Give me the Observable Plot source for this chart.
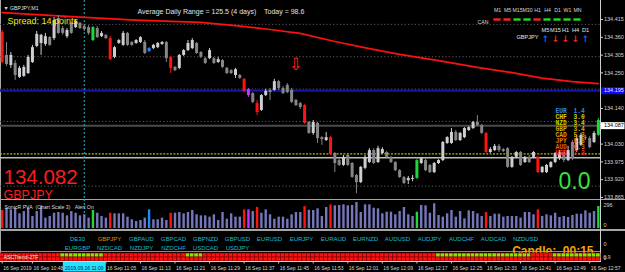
<!DOCTYPE html>
<html><head><meta charset="utf-8">
<script src="https://cdn.jsdelivr.net/npm/d3@7"></script>
<script src="https://cdn.jsdelivr.net/npm/@observablehq/plot@0.6"></script>
<style>
html,body{margin:0;padding:0;background:#000;}
#chart{position:relative;width:625px;height:272px;background:#000;overflow:hidden;}
</style></head><body><div id="chart"></div>
<script>
// ---------- DATA (GBPJPY, M1, 16 Sep 2019 from 10:41) ----------
const opens = [134.375,134.304,134.273,134.279,134.236,134.239,134.248,134.282,134.332,134.341,
134.338,134.359,134.356,134.418,134.387,134.362,134.403,134.390,134.403,134.393,
134.390,134.350,134.387,134.362,134.366,134.356,134.298,134.341,134.335,134.372,
134.344,134.341,134.344,134.344,134.316,134.325,134.328,134.338,134.344,134.298,
134.267,134.264,134.304,134.319,134.325,134.341,134.313,134.294,134.294,134.294,
134.282,134.288,134.264,134.257,134.242,134.242,134.230,134.199,134.186,134.155,
134.134,134.180,134.196,134.196,134.223,134.202,134.211,134.196,134.165,134.155,
134.149,134.097,134.063,134.094,134.050,134.041,134.050,134.001,133.979,133.964,
133.995,133.970,133.933,133.911,133.955,133.973,134.010,133.973,134.001,134.004,
133.989,133.973,133.948,133.927,133.917,133.921,133.924,133.970,133.979,133.964,
133.942,133.970,133.979,134.032,134.032,134.066,134.041,134.050,134.072,134.078,
134.097,134.087,134.063,134.004,134.010,134.023,134.013,134.016,133.958,133.989,
134.004,133.973,133.989,133.989,133.989,133.942,133.942,133.958,133.973,133.985,
134.004,133.979,134.035,134.010,134.026,134.050,134.047,134.035,134.057];
const highs = [134.381,134.344,134.313,134.288,134.270,134.273,134.304,134.335,134.378,134.369,
134.372,134.362,134.421,134.427,134.393,134.387,134.406,134.415,134.406,134.400,
134.396,134.393,134.393,134.378,134.369,134.362,134.332,134.353,134.378,134.375,
134.347,134.353,134.362,134.350,134.328,134.338,134.344,134.347,134.347,134.301,
134.270,134.307,134.322,134.350,134.356,134.344,134.316,134.298,134.325,134.298,
134.298,134.291,134.267,134.260,134.264,134.245,134.233,134.202,134.189,134.165,
134.183,134.199,134.202,134.230,134.227,134.208,134.217,134.202,134.168,134.159,
134.152,134.100,134.103,134.097,134.053,134.066,134.053,134.004,133.985,133.995,
134.001,133.973,133.936,133.961,133.995,134.016,134.016,134.023,134.019,134.007,
133.992,133.976,133.951,133.930,133.930,133.933,133.982,133.989,133.985,133.967,
133.973,133.982,134.038,134.053,134.078,134.072,134.066,134.081,134.084,134.100,
134.118,134.091,134.066,134.019,134.029,134.029,134.016,134.019,133.992,134.007,
134.007,133.992,133.995,134.007,133.992,133.961,133.967,133.976,134.004,134.010,
134.010,134.023,134.041,134.057,134.063,134.057,134.053,134.069,134.109];
const lows = [134.279,134.270,134.264,134.227,134.233,134.236,134.245,134.279,134.328,134.304,
134.332,134.332,134.350,134.369,134.366,134.356,134.369,134.387,134.384,134.378,
134.366,134.347,134.356,134.359,134.353,134.288,134.294,134.338,134.332,134.332,
134.332,134.338,134.341,134.307,134.313,134.322,134.325,134.335,134.282,134.248,
134.254,134.260,134.301,134.316,134.322,134.307,134.294,134.276,134.291,134.276,
134.279,134.264,134.245,134.245,134.233,134.230,134.189,134.174,134.155,134.118,
134.131,134.177,134.165,134.193,134.196,134.183,134.186,134.155,134.146,134.137,
134.091,134.060,134.057,134.032,134.026,134.038,133.995,133.942,133.961,133.961,
133.961,133.924,133.877,133.908,133.951,133.970,133.967,133.970,133.998,133.985,
133.970,133.945,133.924,133.905,133.905,133.914,133.921,133.967,133.945,133.939,
133.939,133.967,133.976,134.029,134.029,134.038,134.038,134.047,134.069,134.075,
134.084,134.060,134.001,134.001,134.007,134.004,134.004,133.955,133.955,133.985,
133.961,133.970,133.970,133.985,133.939,133.939,133.939,133.955,133.970,133.979,
133.973,133.976,133.979,134.004,134.023,134.041,134.016,134.032,134.054];
const closes = [134.282,134.276,134.304,134.242,134.264,134.267,134.298,134.328,134.369,134.366,
134.362,134.335,134.412,134.372,134.372,134.381,134.372,134.409,134.387,134.384,
134.372,134.390,134.359,134.372,134.356,134.291,134.328,134.350,134.372,134.335,
134.335,134.350,134.359,134.310,134.325,134.335,134.341,134.344,134.294,134.264,
134.257,134.304,134.319,134.341,134.350,134.310,134.298,134.279,134.319,134.279,
134.291,134.267,134.248,134.248,134.260,134.233,134.193,134.180,134.159,134.128,
134.180,134.193,134.189,134.223,134.202,134.186,134.189,134.159,134.149,134.143,
134.094,134.063,134.097,134.047,134.044,134.050,133.998,133.970,133.964,133.989,
133.964,133.927,133.911,133.958,133.989,134.010,133.970,134.016,134.013,133.989,
133.973,133.948,133.927,133.908,133.924,133.924,133.979,133.985,133.948,133.942,
133.970,133.979,134.035,134.050,134.066,134.041,134.063,134.078,134.081,134.097,
134.087,134.063,134.004,134.013,134.023,134.010,134.007,133.958,133.989,134.004,
133.964,133.989,133.973,134.004,133.942,133.958,133.964,133.973,134.001,134.004,
133.979,134.010,133.985,134.047,134.057,134.047,134.019,134.063,134.103];
const volumes = [205,231,212,231,167,193,231,137,193,250,
118,137,174,182,174,144,193,174,144,156,
118,205,174,137,118,174,167,167,167,129,
99,80,91,118,212,99,99,118,91,174,
174,182,167,182,205,156,144,144,129,156,
91,182,106,167,129,129,212,212,193,239,
174,212,156,106,129,129,106,156,182,182,
250,208,205,224,137,239,269,258,262,269,
258,262,296,182,269,269,231,224,167,186,
186,156,193,239,156,137,186,262,258,174,
281,148,129,167,205,129,193,110,201,193,
167,137,182,137,163,163,129,137,137,137,
118,182,182,156,212,137,156,144,174,125,
137,125,148,163,163,201,174,193,250];
// SonicR PVA highlighted bars [bar index, colour class]
const climaxBars = [[0,"red"],[21,"green"],[25,"red"],[34,"blue"],[39,"red"],[56,"red"],[57,"purple"],
  [59,"red"],[70,"red"],[76,"red"],[96,"green"],[112,"red"],[124,"red"],[138,"green"]];
// moving average [bar index, price]
const maPoints = [[0,134.436],[16,134.424],[31,134.413],[46,134.406],[54,134.396],[62,134.384],[69,134.372],
  [77,134.347],[85,134.325],[92,134.307],[101,134.288],[110,134.267],[118,134.251],[125,134.234],[132,134.223],[138,134.217]];
const priceTicks = [134.415,134.360,134.305,134.250,134.195,134.140,134.085,134.030,133.975,133.920,133.865];
const roundLevels = [134.40,134.30,134.20,134.10,133.90];
const keyLevel = 134.00;
const lowerLine = 133.988;
const blueLine = 134.195;
const bidPrice = 134.087;
const crossBar = 19;
const crossLabel = "2019.09.16 11:00";
const signalUp = {i:132, p:134.029};
const signalDown = {i:68, p:134.276};
const timeTicks = [[0,"16 Sep 2019"],[7,"16 Sep 10:48"],[24,"16 Sep 11:05"],[32,"16 Sep 11:13"],
  [40,"16 Sep 11:21"],[48,"16 Sep 11:29"],[56,"16 Sep 11:37"],[64,"16 Sep 11:45"],[72,"16 Sep 11:53"],
  [80,"16 Sep 12:01"],[88,"16 Sep 12:09"],[96,"16 Sep 12:17"],[104,"16 Sep 12:25"],[112,"16 Sep 12:33"],
  [120,"16 Sep 12:41"],[128,"16 Sep 12:49"],[136,"16 Sep 12:57"]];
const volumeScaleLabels = [296, 0];
const ascGreenRanges = [[14,23],[43,46],[101,122],[128,138]];
const tfNames = ["M1","M5","M15","M30","H1","H4","D1","W1","MN"];
const tfTrend = ["down","down","up","up","down","up","up","up","up"];
const arrowTfs = ["M5","M15","H1","H4","D1"];
const arrowDir = ["up","down","down","down","up"];
const currencies = ["EUR","CHF","NZD","GBP","CAD","JPY","AUD","USD"];
const strength = [1.4,3.0,3.4,3.4,5.3,5.3,6.3,7.3];
const currencyColors = ["#2b86ff","#d6d600","#cccc00","#c4b400","#dca000","#dc8200","#d86a00","#ff2424"];
const pairsTop = ["DE30","GBPJPY","GBPAUD","GBPCAD","GBPNZD","GBPUSD","EURUSD","EURJPY","EURAUD","EURNZD","AUDUSD","AUDJPY","AUDCHF","AUDCAD","NZDUSD"];
const pairsBottom = ["EURGBP","NZDCAD","NZDJPY","NZDCHF","USDCAD","USDJPY"];
const activePair = "GBPJPY";
const lastPrice = "134.082";
const spreadText = "Spread: 14 points";
const adrText = "Average Daily Range = 125.5 (4 days)\u00a0\u00a0\u00a0\u00a0Today = 98.6";
const candleTimer = "Candle:\u00a0\u00a000:15";

// ---------- BUILD ----------
const chart = document.getElementById("chart");
const FONT = "'Liberation Sans', Arial, sans-serif";
function place(svg, left, top){
  Object.assign(svg.style,{position:"absolute",left:left+"px",top:top+"px",background:"transparent",overflow:"visible",maxWidth:"none"});
  chart.appendChild(svg);
}
function sep(left, top, w, h, color){
  const d=document.createElement("div");
  Object.assign(d.style,{position:"absolute",left:left+"px",top:top+"px",width:w+"px",height:h+"px",background:color});
  chart.appendChild(d);
}
const style = {background:"transparent", color:"#d4d4d4", fontFamily:FONT, overflow:"visible"};
const xBars = {type:"linear", domain:[-0.394, 138.5], axis:null};
const pvaMap = new Map(climaxBars);
const pvaPalette = {red:"#ff1414", green:"#1ed83a", blue:"#1e8cff", purple:"#b43cff"};
const bars = opens.map((o,i)=>({i, o, h:highs[i], l:lows[i], c:closes[i], v:volumes[i], pva:pvaMap.get(i)}));
const candleColor = d => d.pva ? pvaPalette[d.pva] : (d.c >= d.o ? "#cdcdd2" : "#868686");
const volColor = d => d.pva ? pvaPalette[d.pva] : "#7676bc";
const txt = (s, o) => Plot.text([s], {text: d=>d, ...o});

// separators
sep(0,198.5,625,1.5,"#a6a6a6");
sep(0,229,625,1.5,"#a6a6a6");
sep(0,251.3,600,1,"#8a8a8a");
sep(0,0,1,262,"#a8a8a8");
sep(600,0,1,262,"#cfcfcf");

// main price window
place(Plot.plot({
  width:625, height:198, marginLeft:0, marginRight:25, marginTop:0, marginBottom:0,
  x:xBars, y:{domain:[133.8619,134.4737]}, color:{type:"identity"}, style,
  marks:[
    Plot.ruleY(roundLevels, {y:d=>d, stroke:"#5c5c5c", strokeDasharray:"1.2,2.2"}),
    Plot.ruleY([keyLevel], {y:d=>d, stroke:"#b8b800", strokeDasharray:"2,1.4", strokeWidth:1.3}),
    Plot.ruleY([lowerLine], {y:d=>d, stroke:"#bdbdbd", strokeWidth:1.6}),
    Plot.ruleY([bidPrice], {y:d=>d, stroke:"#4b4b4b", strokeWidth:2}),
    Plot.ruleY([blueLine], {y:d=>d, stroke:"#1414a8", strokeWidth:2.2}),
    Plot.ruleX([crossBar], {x:d=>d, stroke:"#22b8c0", strokeDasharray:"2,2"}),
    Plot.line(maPoints, {x:d=>d[0], y:d=>d[1], stroke:"#ff1010", strokeWidth:1.7}),
    Plot.ruleX(bars, {x:"i", y1:"l", y2:"h", stroke:candleColor, strokeWidth:1}),
    Plot.ruleX(bars, {x:"i", y1:"o", y2:"c", stroke:candleColor, strokeWidth:3}),
    Plot.text([signalUp], {x:"i", y:"p", text:()=>"↑", fill:"#ff2aff", fontSize:9, fontWeight:"bold"}),
    Plot.text([signalDown], {x:"i", y:"p", text:()=>"⇩", fill:"#ff2020", fontSize:17, fontFamily:"DejaVu Sans"}),
    txt("▼\u00a0GBPJPY,M1", {frameAnchor:"top-left", dx:3, dy:5.5, textAnchor:"start", fill:"#e0e0e0", fontSize:5.2}),
    txt(spreadText, {frameAnchor:"top-left", dx:7, dy:17.5, textAnchor:"start", fill:"#eaea10", fontSize:9}),
    txt(adrText, {frameAnchor:"top-left", dx:137, dy:8.5, textAnchor:"start", fill:"#e2e2e2", fontSize:7}),
    txt(lastPrice, {frameAnchor:"top-left", dx:3, dy:168.5, textAnchor:"start", fill:"#ff1c1c", fontSize:20.5}),
    txt(activePair, {frameAnchor:"top-left", dx:3, dy:190, textAnchor:"start", fill:"#ff1c1c", fontSize:12.5}),
    txt("0.0", {frameAnchor:"top-right", dx:-10, dy:172, textAnchor:"end", fill:"#3ce03c", fontSize:23}),
    Plot.axisY(priceTicks, {anchor:"right", tickSize:2, tickPadding:1.5, tickFormat:d=>d.toFixed(3), fontSize:5.5, label:null}),
    Plot.ruleY([blueLine], {y:d=>d, stroke:"#0a0af0", strokeWidth:7, insetLeft:601, insetRight:-24.5}),
    Plot.text([blueLine], {y:d=>d, text:d=>d.toFixed(3), frameAnchor:"right", dx:3.5, textAnchor:"start", fill:"#e8e8ff", fontSize:5.5}),
    Plot.ruleY([bidPrice], {y:d=>d, stroke:"#ffffff", strokeWidth:7, insetLeft:601, insetRight:-24.5}),
    Plot.text([bidPrice], {y:d=>d, text:d=>d.toFixed(3), frameAnchor:"right", dx:3.5, textAnchor:"start", fill:"#000000", fontSize:5.5})
  ]
}), 0, 0);

// SonicR PVA volume window
place(Plot.plot({
  width:625, height:30, marginLeft:0, marginRight:25, marginTop:3, marginBottom:1,
  x:xBars, y:{domain:[0,296], axis:null}, color:{type:"identity"}, style,
  marks:[
    Plot.ruleX([crossBar], {x:d=>d, stroke:"#22b8c0", strokeDasharray:"2,2", insetTop:-3, insetBottom:-1}),
    Plot.ruleX(bars, {x:"i", y1:0, y2:"v", stroke:volColor, strokeWidth:2.4}),
    txt("SonicR PVA\u00a0\u00a0(Chart Scale 3)\u00a0\u00a0\u00a0Alert On", {frameAnchor:"top-left", dx:4, dy:3, textAnchor:"start", fill:"#dcdcdc", fontSize:5.2}),
    Plot.text([volumeScaleLabels[0]], {y:d=>d, text:d=>String(d), frameAnchor:"right", dx:3, dy:3, textAnchor:"start", fill:"#d4d4d4", fontSize:5.5}),
    Plot.text([volumeScaleLabels[1]], {y:d=>d, text:d=>String(d), frameAnchor:"right", dx:3, dy:-3, textAnchor:"start", fill:"#d4d4d4", fontSize:5.5})
  ]
}), 0, 199);

// pairs / candle timer window
const pairCells = [...pairsTop.map((p,k)=>({k,row:"top",p})), ...pairsBottom.map((p,k)=>({k,row:"bottom",p}))];
place(Plot.plot({
  width:625, height:21, marginLeft:0, marginRight:25, marginTop:9, marginBottom:2.5,
  x:{type:"band", domain:d3.range(pairsTop.length), range:[54.03,547.5], padding:0, axis:null},
  y:{type:"point", domain:["top","bottom"], padding:0, axis:null}, color:{type:"identity"}, style,
  marks:[
    Plot.text(pairCells, {x:"k", y:"row", text:"p", fill:d=>d.p===activePair?"#e38e00":"#1fbccc", fontSize:6}),
    txt(candleTimer, {frameAnchor:"top-right", dx:-7, dy:7, textAnchor:"end", fill:"#f2a20c", fontSize:12, fontWeight:"bold"}),
    txt("0", {frameAnchor:"top-right", dx:3, dy:3, textAnchor:"start", fill:"#d4d4d4", fontSize:5.5}),
    txt("0", {frameAnchor:"top-right", dx:3, dy:16.5, textAnchor:"start", fill:"#d4d4d4", fontSize:5.5})
  ]
}), 0, 230);

// ASCTrend strip
const inGreen = i => ascGreenRanges.some(([a,b]) => i>=a && i<=b);
const ascCells = bars.flatMap(b => [{i:b.i,row:"fast",on:inGreen(b.i)},{i:b.i,row:"slow",on:false}]);
place(Plot.plot({
  width:625, height:10, marginLeft:0, marginRight:25, marginTop:0.5, marginBottom:0.5,
  x:xBars, y:{type:"band", domain:["fast","slow"], padding:0, axis:null}, color:{type:"identity"}, style,
  marks:[
    Plot.barX(ascCells, {x1:d=>d.i-0.5, x2:d=>d.i+0.5, y:"row", fill:d=>d.on?"#84e800":"#ff1010", stroke:"#7a0000", strokeWidth:0.6}),
    txt("ASCTrend-2TF", {frameAnchor:"left", dx:3, textAnchor:"start", fill:"#f0f0f0", fontSize:5.2}),
    txt("0.9", {frameAnchor:"right", dx:3, dy:-0.5, textAnchor:"start", fill:"#d4d4d4", fontSize:5})
  ]
}), 0, 251.5);

// time axis
place(Plot.plot({
  width:625, height:11, marginLeft:0, marginRight:25, marginTop:0, marginBottom:0,
  x:xBars, color:{type:"identity"}, style,
  marks:[
    Plot.frame({anchor:"top", stroke:"#dadada"}),
    Plot.ruleX(timeTicks, {x:d=>d[0], stroke:"#d0d0d0", insetBottom:8.5}),
    Plot.text(timeTicks, {x:d=>d[0], text:d=>d[1], textAnchor:"start", dx:1, dy:1, fill:"#d8d8d8", fontSize:5}),
    Plot.ruleX([crossBar], {x:d=>d, stroke:"#25e2ff", strokeWidth:43, insetTop:1, insetBottom:0.5}),
    Plot.text([crossBar], {x:d=>d, text:()=>crossLabel, dy:1, fill:"#001838", fontSize:5})
  ]
}), 0, 261);

// multi-timeframe trend dashes
const tfData = tfNames.map((tf,k)=>({tf, trend:tfTrend[k]}));
place(Plot.plot({
  width:130, height:42, marginLeft:17.5, marginRight:14.5, marginTop:0, marginBottom:0,
  x:{type:"band", domain:tfNames, padding:0, axis:null}, color:{type:"identity"}, style,
  marks:[
    Plot.text(tfData, {x:"tf", text:"tf", frameAnchor:"top", dy:7.5, fill:"#d8d8d8", fontSize:5.2}),
    txt("CAN", {frameAnchor:"top-left", dx:-10.5, dy:19.5, textAnchor:"start", fill:"#d8d8d8", fontSize:5.2}),
    Plot.cell(tfData, {x:"tf", fill:d=>d.trend==="up"?"#22dd22":"#ff2020", insetLeft:1.4, insetRight:1.4, insetTop:18.3, insetBottom:21.3})
  ]
}), 470, 0);

// per-timeframe arrows
const arrowData = arrowTfs.map((tf,k)=>({tf, dir:arrowDir[k]}));
place(Plot.plot({
  width:90, height:22, marginLeft:27.6, marginRight:8.6, marginTop:0, marginBottom:0,
  x:{type:"band", domain:arrowTfs, padding:0, axis:null}, color:{type:"identity"}, style,
  marks:[
    Plot.text(arrowData, {x:"tf", text:"tf", frameAnchor:"top", dy:7.5, fill:"#e6e6e6", fontSize:5.6}),
    Plot.text(arrowData, {x:"tf", text:d=>d.dir==="up"?"↑":"↓", frameAnchor:"top", dy:15, fill:d=>d.dir==="up"?"#1f5cff":"#ff2020", fontSize:9, fontWeight:"bold", fontFamily:"DejaVu Sans"}),
    txt(activePair, {frameAnchor:"top-left", dx:-21.6, dy:15, textAnchor:"start", fill:"#e6e6e6", fontSize:5.6})
  ]
}), 510, 20);

// currency strength list
const cs = currencies.map((c,k)=>({c, s:strength[k], col:currencyColors[k]}));
place(Plot.plot({
  width:45, height:64, marginLeft:0, marginRight:0, marginTop:7, marginBottom:6,
  y:{type:"point", domain:currencies, axis:null}, color:{type:"identity"}, style,
  marks:[
    Plot.text(cs, {y:"c", text:"c", frameAnchor:"left", dx:5, textAnchor:"start", fill:"col", fontSize:6.3, fontWeight:"bold", fontFamily:"'Liberation Mono', monospace"}),
    Plot.text(cs, {y:"c", text:d=>d.s.toFixed(1), frameAnchor:"left", dx:23, textAnchor:"start", fill:"col", fontSize:6.3, fontWeight:"bold", fontFamily:"'Liberation Mono', monospace"})
  ]
}), 550, 98);
</script></body></html>
